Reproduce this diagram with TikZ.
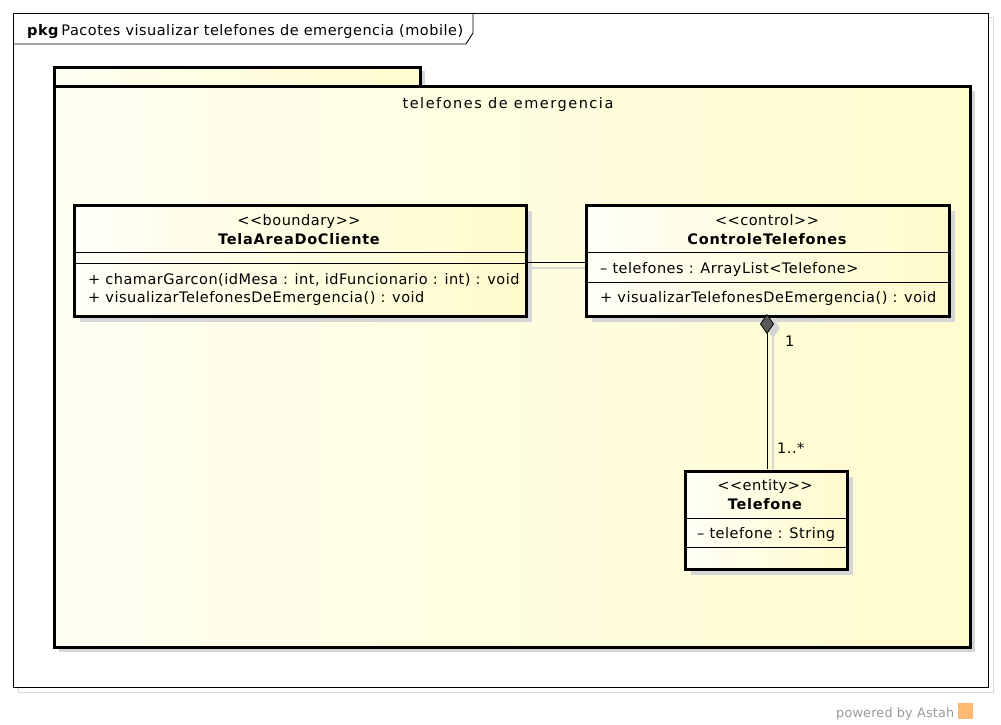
\documentclass[tikz,border=0pt]{standalone}
\usepackage{fontspec}
\setmainfont{DejaVu Sans}
\usetikzlibrary{shapes.geometric,arrows.meta,shadows,calc}
\definecolor{pkgA}{HTML}{FFFFF2}
\definecolor{pkgB}{HTML}{FFFCCE}
\definecolor{clsA}{HTML}{FFFFF6}
\definecolor{clsB}{HTML}{FFFBCC}
\definecolor{shadowc}{HTML}{D6D6D6}
\definecolor{framesh}{HTML}{DADADA}
\begin{document}
\begin{tikzpicture}[x=1pt,y=-1pt,
  txt/.style={inner sep=0pt, font=\fontsize{14.5}{17}\selectfont\addfontfeatures{LetterSpace=3.4}},
  ttl/.style={inner sep=0pt, font=\fontsize{14.5}{17}\selectfont\addfontfeatures{LetterSpace=10.5}},
  bold/.style={inner sep=0pt, font=\fontsize{14.5}{17}\selectfont\bfseries\addfontfeatures{LetterSpace=5}},
  clsbox/.style={draw=black, line width=2.6pt, left color=clsA, right color=clsB,
    inner sep=0pt, anchor=north west,
    general shadow={fill=shadowc, shadow xshift=6pt, shadow yshift=-6pt}},
  sep/.style={draw=black, line width=0.8pt},
  assoc/.style={draw=black, line width=0.9pt},
  assocsh/.style={draw=shadowc, line width=1.2pt}]
\useasboundingbox (0,0) rectangle (1001,725);
\fill[white] (0,0) rectangle (1001,725);

% outer frame
\draw[framesh, line width=1pt] (18,18) rectangle (993,692);
\node[draw=black, fill=white, line width=0.9pt, inner sep=0pt, anchor=north west,
  minimum width=975pt, minimum height=674pt] (frame) at (13,13) {};
\draw[black, line width=0.9pt] (13,44) -- (466,44) -- (473,33) -- (473,13);
\node[txt, anchor=base west] (ftitle) at (27,36) {\textbf{pkg}\,Pacotes visualizar telefones de emergencia (mobile)};

% package
\fill[shadowc] (59,71) rectangle (425,90);
\fill[shadowc] (59,91) rectangle (975,652);
\node[draw=black, line width=2.6pt, left color=pkgA, right color=pkgB, inner sep=0pt,
  anchor=north west, minimum width=366pt, minimum height=20pt] (pkgtab) at (53,66) {};
\node[draw=black, line width=2.6pt, left color=pkgA, right color=pkgB, inner sep=0pt,
  anchor=north west, minimum width=916pt, minimum height=561pt] (pkg) at (53,85) {};
\node[ttl, anchor=base] (pkgname) at (508,108) {telefones de emergencia};

% class TelaAreaDoCliente
\node[clsbox, minimum width=452pt, minimum height=111pt] (tela) at (73,204) {};
\draw[sep] (73,252) -- (525,252);
\draw[sep] (73,263) -- (525,263);
\node[txt, anchor=base] (telaster) at (299,225) {{<}{<}boundary{>}{>}};
\node[bold, anchor=base] (telaname) at (299,244) {TelaAreaDoCliente};
\node[txt, anchor=base west] (telam1) at (88,284) {+ chamarGarcon(idMesa : int, idFuncionario : int) : void};
\node[txt, anchor=base west] (telam2) at (88,302) {+ visualizarTelefonesDeEmergencia() : void};

% class ControleTelefones
\node[clsbox, minimum width=363pt, minimum height=111pt] (ctrl) at (585,204) {};
\draw[sep] (585,252) -- (948,252);
\draw[sep] (585,282) -- (948,282);
\node[txt, anchor=base] (ctrlster) at (767,225) {{<}{<}control{>}{>}};
\node[bold, anchor=base] (ctrlname) at (767,244) {ControleTelefones};
\node[txt, anchor=base west] (ctrla1) at (600,273) {– telefones : ArrayList{<}Telefone{>}};
\node[txt, anchor=base west] (ctrlm1) at (600,302) {+ visualizarTelefonesDeEmergencia() : void};

% class Telefone
\node[clsbox, minimum width=162pt, minimum height=98pt] (tele) at (684,470) {};
\draw[sep] (684,518) -- (846,518);
\draw[sep] (684,547) -- (846,547);
\node[txt, anchor=base] (teleste) at (765,490) {{<}{<}entity{>}{>}};
\node[bold, anchor=base] (telename) at (765,509) {Telefone};
\node[txt, anchor=base west] (telea1) at (697,538) {– telefone : String};

% association TelaAreaDoCliente -- ControleTelefones
\coordinate (a1) at (tela.east |- 0,262);
\coordinate (a2) at (ctrl.west |- 0,262);
\draw[assocsh] ($(a1)+(3,6)$) -- ($(a2)+(0,6)$);
\draw[assoc] (a1) -- (a2);

% composition ControleTelefones <>-- Telefone
\coordinate (c1) at (767,314);
\coordinate (c2) at (767,469);
\draw[assocsh] ($(c1)+(6,6)$) -- ($(c2)+(6,0)$);
\fill[shadowc] ($(c1)+(6,4)$) -- ($(c1)+(13,14)$) -- ($(c1)+(6,24)$) -- ($(c1)+(-1,14)$) -- cycle;
\draw[assoc, {Diamond[length=20pt,width=14pt,fill=black!65,line width=0.8pt]}-] (c1) -- (c2);
\node[txt, anchor=base west] (m1) at (785,346) {1};
\node[txt, anchor=base west] (m2) at (777,453) {1..*};

% powered by
\node[inner sep=0pt, anchor=base west, text=black!40, font=\fontsize{12.8}{15}\selectfont\addfontfeatures{LetterSpace=1.5}] (pow) at (836,717) {powered by Astah};
\fill[orange!55] (958,703) rectangle (973,719);
\end{tikzpicture}
\end{document}
